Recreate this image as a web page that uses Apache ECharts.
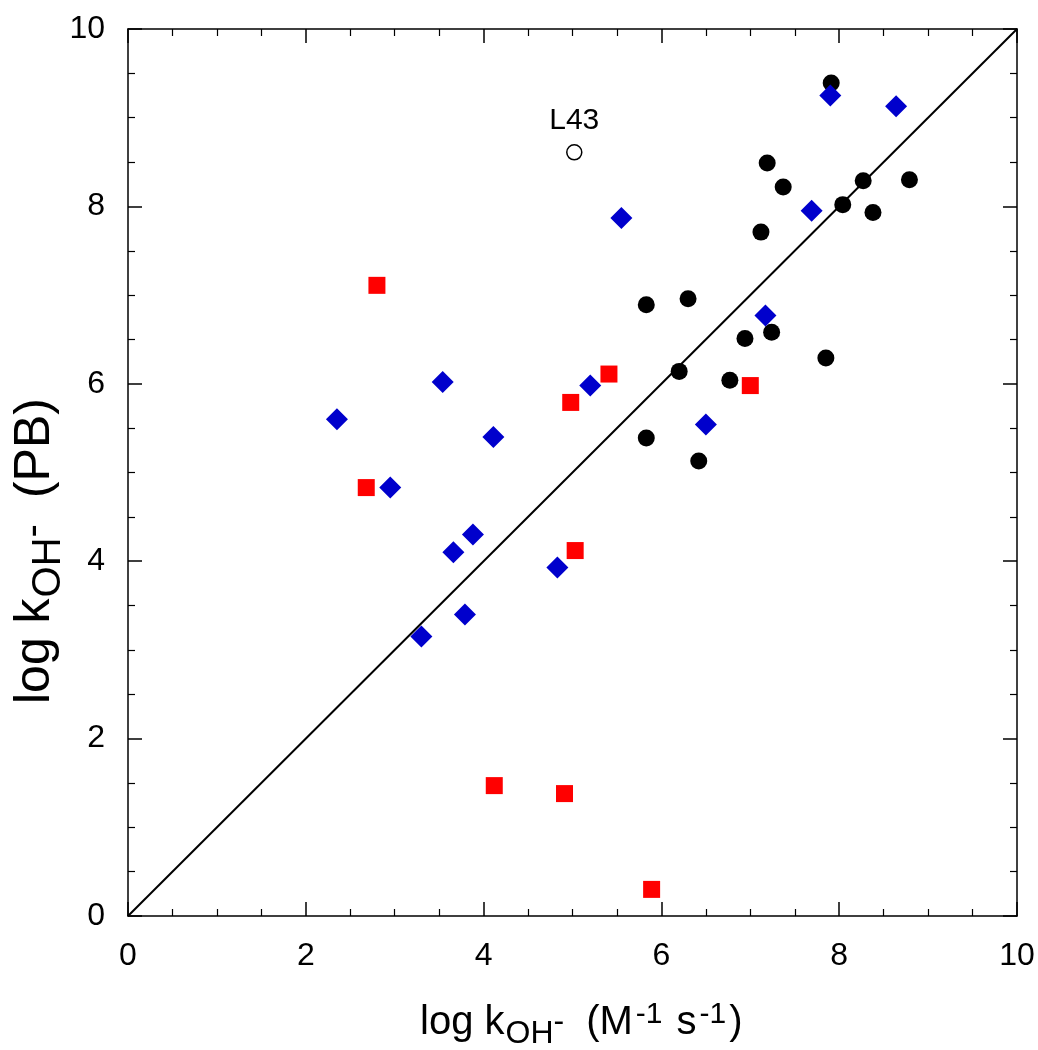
<!DOCTYPE html>
<html>
<head>
<meta charset="utf-8">
<script src="https://cdn.jsdelivr.net/npm/echarts@6/dist/echarts.min.js"></script>
<style>
html,body{margin:0;padding:0;background:#fff;}
#chart{width:1038px;height:1050px;}
</style>
</head>
<body>
<div id="chart"></div>
<script>
// Data (x = log kOH- measured, y = log kOH- (PB))
const blackCircles = [
  [7.91, 9.39], [7.19, 8.49], [7.37, 8.22], [8.27, 8.29], [8.79, 8.30],
  [8.04, 8.02], [8.38, 7.93], [7.12, 7.71], [5.83, 6.89], [6.30, 6.96],
  [6.94, 6.51], [7.24, 6.58], [7.85, 6.29], [6.20, 6.14], [6.77, 6.04],
  [5.83, 5.39], [6.42, 5.13]
];
const blueDiamonds = [
  [7.90, 9.25], [8.64, 9.13], [5.55, 7.87], [7.69, 7.95], [7.17, 6.77],
  [6.50, 5.54], [3.54, 6.02], [2.35, 5.60], [4.11, 5.40], [5.20, 5.98],
  [2.95, 4.83], [3.88, 4.30], [3.66, 4.10], [4.83, 3.93], [3.79, 3.40],
  [3.30, 3.15]
];
const redSquares = [
  [2.80, 7.11], [5.41, 6.11], [4.98, 5.79], [7.00, 5.98], [2.68, 4.83],
  [5.03, 4.12], [4.12, 1.47], [4.91, 1.38], [5.89, 0.30]
];
const openCircle = [[5.02, 8.61]];
const openCircleLabel = 'L43';
const identityLine = [[0, 0], [10, 10]];
const axisMin = 0, axisMax = 10, axisStep = 2;

const FONT = '"Liberation Sans", Arial, sans-serif';
const chart = echarts.init(document.getElementById('chart'), null, {renderer: 'canvas'});

const grid = {left: 128, right: 21, top: 29, bottom: 134};
function makeAxis(pos, showLabel, margin) {
  return {
    type: 'value', min: axisMin, max: axisMax, interval: axisStep,
    position: pos,
    axisLine: {show: true, onZero: false, lineStyle: {color: '#000', width: 1.5}},
    axisTick: {show: true, inside: true, length: 14, lineStyle: {color: '#000', width: 1.5}},
    minorTick: {show: true, splitNumber: 4, length: 7, lineStyle: {color: '#000', width: 1.2}},
    splitLine: {show: false},
    axisLabel: {show: showLabel, color: '#000', fontSize: 32, fontFamily: FONT, margin: margin},
  };
}

function richSet(main, sub, sup, gap) {
  const lh = Math.round(main * 1.2);
  return {
    m: {fontSize: main, fontFamily: FONT, color: '#000', lineHeight: lh, verticalAlign: 'bottom'},
    gap: {fontSize: main, fontFamily: FONT, color: '#000', lineHeight: lh, verticalAlign: 'bottom', padding: [0, 0, 0, gap]},
    sub: {fontSize: sub, fontFamily: FONT, color: '#000', lineHeight: lh, verticalAlign: 'bottom', padding: [0, 0, -Math.round(main * 0.17), 1]},
    subsup: {fontSize: sub, fontFamily: FONT, color: '#000', lineHeight: lh, verticalAlign: 'bottom', padding: [0, 0, Math.round(main * 0.12), 0]},
    sup: {fontSize: sup, fontFamily: FONT, color: '#000', lineHeight: lh, verticalAlign: 'bottom', padding: [0, 3, Math.round(main * 0.33), 3]}
  };
}

const option = {
  animation: false,
  backgroundColor: '#fff',
  grid: grid,
  xAxis: [makeAxis('bottom', true, 24), makeAxis('top', false, 24)],
  yAxis: [makeAxis('left', true, 23), makeAxis('right', false, 23)],
  graphic: [
    {
      type: 'text', x: 420, y: 1019, z: 100,
      style: {
        text: '{m|log k}{sub|OH}{subsup|-}{gap|(M}{sup|-1}{m| s}{sup|-1}{m|)}',
        rich: richSet(40, 32, 30, 22),
        align: 'left', verticalAlign: 'middle'
      }
    },
    {
      type: 'text', x: 30, y: 704, rotation: Math.PI / 2, z: 100,
      style: {
        text: '{m|log k}{sub|OH}{subsup|-}{gap|(PB)}',
        rich: richSet(50, 40, 36, 26),
        align: 'left', verticalAlign: 'middle'
      }
    }
  ],
  series: [
    {
      type: 'line', data: identityLine, xAxisIndex: 0, yAxisIndex: 0,
      symbol: 'none', lineStyle: {color: '#000', width: 2}, z: 1, silent: true
    },
    {
      type: 'scatter', data: blackCircles, symbol: 'circle', symbolSize: 17,
      itemStyle: {color: '#000', opacity: 1}, z: 3
    },
    {
      type: 'scatter', data: blueDiamonds, symbol: 'diamond', symbolSize: 22,
      itemStyle: {color: '#0000CC', opacity: 1}, z: 4
    },
    {
      type: 'scatter', data: redSquares, symbol: 'rect', symbolSize: 17,
      itemStyle: {color: '#FF0000', opacity: 1}, z: 4
    },
    {
      type: 'scatter', data: openCircle, symbol: 'circle', symbolSize: 15,
      itemStyle: {color: '#fff', borderColor: '#000', borderWidth: 1.5, opacity: 1}, z: 4,
      label: {show: true, position: 'top', distance: 8, formatter: openCircleLabel,
        color: '#000', fontSize: 30, fontFamily: FONT}
    }
  ]
};
chart.setOption(option);
</script>
</body>
</html>
